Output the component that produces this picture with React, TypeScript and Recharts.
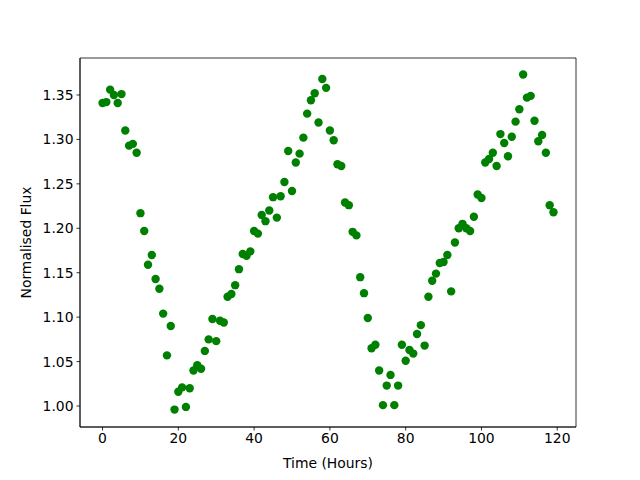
import { ScatterChart, Scatter, XAxis, YAxis, ReferenceArea } from "recharts";

const hours = [
  0, 1, 2, 3, 4, 5, 6, 7, 8, 9, 10, 11, 12, 13, 14, 15, 16, 17, 18, 19,
  20, 21, 22, 23, 24, 25, 26, 27, 28, 29, 30, 31, 32, 33, 34, 35, 36, 37, 38, 39,
  40, 41, 42, 43, 44, 45, 46, 47, 48, 49, 50, 51, 52, 53, 54, 55, 56, 57, 58, 59,
  60, 61, 62, 63, 64, 65, 66, 67, 68, 69, 70, 71, 72, 73, 74, 75, 76, 77, 78, 79,
  80, 81, 82, 83, 84, 85, 86, 87, 88, 89, 90, 91, 92, 93, 94, 95, 96, 97, 98, 99,
  100, 101, 102, 103, 104, 105, 106, 107, 108, 109, 110, 111, 112, 113, 114, 115, 116, 117, 118, 119,
];

const flux = [
  1.341, 1.342, 1.356, 1.350, 1.341, 1.351, 1.310, 1.293, 1.295, 1.285,
  1.217, 1.197, 1.159, 1.170, 1.143, 1.132, 1.104, 1.057, 1.090, 0.996,
  1.016, 1.021, 0.999, 1.020, 1.040, 1.046, 1.042, 1.062, 1.075, 1.098,
  1.073, 1.096, 1.094, 1.123, 1.126, 1.136, 1.154, 1.171, 1.169, 1.174,
  1.197, 1.194, 1.215, 1.208, 1.220, 1.235, 1.212, 1.236, 1.252, 1.287,
  1.242, 1.274, 1.284, 1.302, 1.329, 1.344, 1.352, 1.319, 1.368, 1.358,
  1.310, 1.299, 1.272, 1.270, 1.229, 1.226, 1.196, 1.192, 1.145, 1.127,
  1.099, 1.065, 1.069, 1.040, 1.001, 1.023, 1.035, 1.001, 1.023, 1.069,
  1.051, 1.063, 1.059, 1.081, 1.091, 1.068, 1.123, 1.141, 1.149, 1.161,
  1.162, 1.170, 1.129, 1.184, 1.200, 1.205, 1.200, 1.197, 1.213, 1.238,
  1.234, 1.274, 1.278, 1.285, 1.270, 1.306, 1.296, 1.281, 1.303, 1.320,
  1.334, 1.373, 1.347, 1.349, 1.321, 1.298, 1.305, 1.285, 1.226, 1.218,
];

const xTicks = [0, 20, 40, 60, 80, 100, 120];
const yTicks = [1.0, 1.05, 1.1, 1.15, 1.2, 1.25, 1.3, 1.35];

const points = hours.map((h, i) => ({ time: h, flux: flux[i] }));

const X_MIN = -5.95;
const X_MAX = 124.95;
const Y_MIN = 0.9764;
const Y_MAX = 1.3916;

const font = { fontFamily: "DejaVu Sans", fontSize: 13.9, fill: "#000" };

export default function App() {
  return (
    <div style={{ position: "absolute", left: 0, top: 0, width: 640, height: 480, background: "#fff" }}>
      <ScatterChart width={640} height={480} margin={{ top: 58, right: 64, bottom: 13, left: 0 }}>
        <XAxis
          type="number"
          dataKey="time"
          domain={[X_MIN, X_MAX]}
          ticks={xTicks}
          height={40}
          tickSize={3.5}
          tickMargin={3}
          tick={font}
          stroke="#000"
          strokeWidth={0.8}
          label={(props: any) => {
            const vb = props.viewBox;
            return (
              <text x={vb.x + vb.width / 2} y={463} textAnchor="middle" dominantBaseline="central" {...font}>
                Time (Hours)
              </text>
            );
          }}
        />
        <YAxis
          type="number"
          dataKey="flux"
          domain={[Y_MIN, Y_MAX]}
          ticks={yTicks}
          width={80}
          tickSize={3.5}
          tickMargin={3}
          tick={font}
          stroke="#000"
          strokeWidth={0.8}
          tickFormatter={(v: number) => v.toFixed(2)}
          label={(props: any) => {
            const vb = props.viewBox;
            const cy = vb.y + vb.height / 2;
            return (
              <text
                x={26}
                y={cy}
                transform={`rotate(-90 26 ${cy})`}
                textAnchor="middle"
                dominantBaseline="central"
                {...font}
              >
                Normalised Flux
              </text>
            );
          }}
        />
        <ReferenceArea x1={X_MIN} x2={X_MAX} y1={Y_MIN} y2={Y_MAX} fill="none" stroke="#000" strokeWidth={0.8} />
        <Scatter
          data={points}
          isAnimationActive={false}
          shape={(p: any) => <circle cx={p.cx} cy={p.cy} r={4.2} fill="#008000" />}
        />
      </ScatterChart>
    </div>
  );
}
